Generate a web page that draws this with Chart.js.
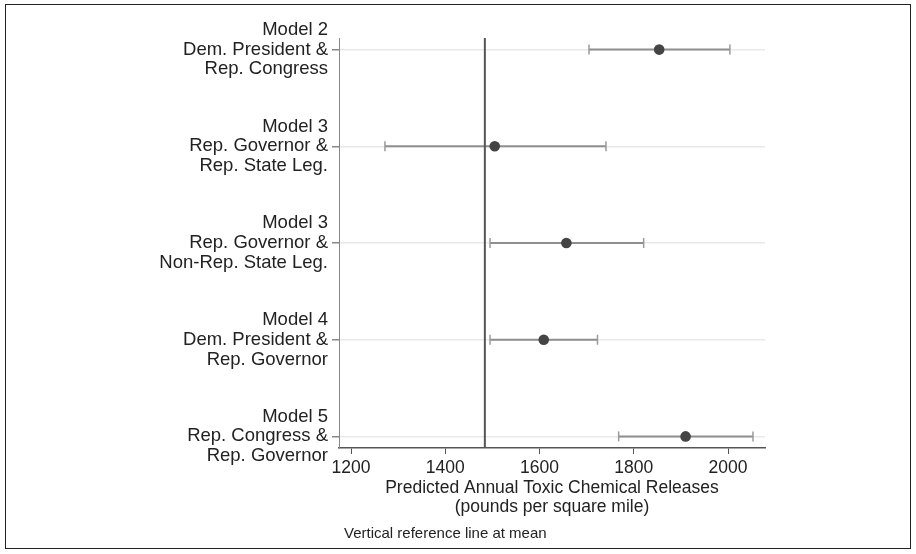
<!DOCTYPE html>
<html lang="en">
<head>
  <meta charset="UTF-8" />
  <title>Predicted Annual Toxic Chemical Releases</title>
  <script src="https://cdn.jsdelivr.net/npm/chart.js"></script>
  <style>
    html, body { margin: 0; padding: 0; background: #fff; }
    #wrap { position: relative; width: 916px; height: 554px; }
    #frame { position: absolute; left: 5px; top: 4px; width: 904px; height: 543px; border: 1.5px solid #222; }
    #chart { position: absolute; left: 0; top: 0; }
    #note { position: absolute; left: 344px; top: 524px; font: 15px "Liberation Sans", Arial, sans-serif; color: #222; }
  </style>
</head>
<body>
  <div id="wrap">
    <div id="frame"></div>
    <canvas id="chart" width="916" height="554"></canvas>
    <div id="note">Vertical reference line at mean</div>
  </div>

  <script>
    // rows, top to bottom
    const rowLabels = [
      ["Model 2", "Dem. President &", "Rep. Congress"],
      ["Model 3", "Rep. Governor &", "Rep. State Leg."],
      ["Model 3", "Rep. Governor &", "Non-Rep. State Leg."],
      ["Model 4", "Dem. President &", "Rep. Governor"],
      ["Model 5", "Rep. Congress &", "Rep. Governor"]
    ];
    const estimates = [1854, 1505, 1657, 1609, 1910];
    const lower = [1705, 1272, 1495, 1495, 1768];
    const upper = [2004, 1741, 1821, 1723, 2053];
    const refMean = 1484;
    const xTicks = [1200, 1400, 1600, 1800, 2000];

    Chart.defaults.font.family = '"Liberation Sans", Arial, Helvetica, sans-serif';
    Chart.defaults.color = "#222";

    const datasets = [];

    // point estimates on top
    datasets.push({
      type: "scatter",
      data: estimates.map((v, i) => ({ x: v, y: i + 1 })),
      backgroundColor: "#444",
      borderWidth: 0,
      pointRadius: 5.3,
      order: 0
    });

    // reference line at mean
    datasets.push({
      type: "line",
      data: [{ x: refMean, y: 0.88 }, { x: refMean, y: 5.12 }],
      borderColor: "#555",
      borderWidth: 2,
      pointRadius: 0,
      order: 1
    });

    // confidence intervals with caps
    lower.forEach((lo, i) => {
      datasets.push({
        type: "line",
        data: [{ x: lo, y: i + 1 }, { x: upper[i], y: i + 1 }],
        borderColor: "#8e8e8e",
        borderWidth: 2,
        pointStyle: "line",
        rotation: 90,
        pointRadius: 5,
        pointBorderColor: "#9a9a9a",
        pointBorderWidth: 1.5,
        order: 2
      });
    });

    new Chart(document.getElementById("chart").getContext("2d"), {
      type: "scatter",
      data: { datasets },
      options: {
        responsive: false,
        animation: false,
        layout: { padding: { left: 0, top: 38, right: 151, bottom: 37 } },
        plugins: { legend: { display: false }, tooltip: { enabled: false } },
        scales: {
          x: {
            type: "linear",
            min: 1174.5,
            max: 2078.5,
            afterBuildTicks: s => { s.ticks = xTicks.map(v => ({ value: v })); },
            afterFit: s => { s.height = 69; },
            ticks: { font: { size: 17.5 }, color: "#222", padding: 4, callback: v => String(v) },
            grid: { drawOnChartArea: false, tickLength: 6, tickColor: "#555", lineWidth: 1 },
            border: { color: "#555", width: 1.5 },
            title: {
              display: true,
              text: ["Predicted Annual Toxic Chemical Releases", "(pounds per square mile)"],
              font: { size: 17.5, lineHeight: 1.1 },
              color: "#222",
              padding: { top: 0, bottom: 0 }
            }
          },
          y: {
            type: "linear",
            reverse: true,
            min: 0.88,
            max: 5.12,
            afterBuildTicks: s => { s.ticks = rowLabels.map((_, i) => ({ value: i + 1 })); },
            afterFit: s => { s.width = 339; },
            ticks: {
              font: { size: 18.5, lineHeight: 1.07 },
              color: "#222",
              padding: 4,
              callback: v => rowLabels[v - 1]
            },
            grid: { color: "#e9e9e9", lineWidth: 1.5, tickLength: 7, tickColor: "#888" },
            border: { color: "#888", width: 1 }
          }
        }
      }
    });
  </script>
</body>
</html>
